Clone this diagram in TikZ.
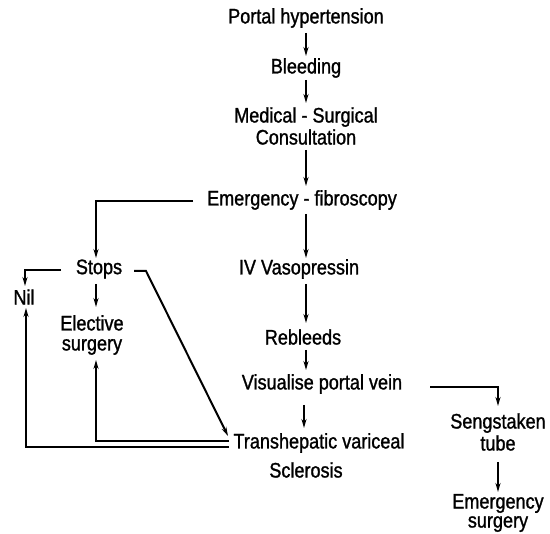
\documentclass[tikz,border=0pt]{standalone}
\usepackage{fontspec}
\setmainfont{Liberation Sans}[FakeStretch=0.86, FakeBold=1.2]
\usetikzlibrary{arrows.meta}
\begin{document}
\begin{tikzpicture}[x=1pt,y=-1pt,
  lbl/.style={inner sep=2pt, font=\fontsize{21}{22}\selectfont, align=center},
  conn/.style={line width=2pt},
  arr/.style={conn, -{Stealth[length=9pt,width=5pt]}}]
\useasboundingbox (0,0) rectangle (550,534);
\node[lbl] (ph) at (306,18) {Portal hypertension};
\node[lbl] (bl) at (306,68) {Bleeding};
\node[lbl] (msc) at (306,126) {Medical - Surgical\\Consultation};
\node[lbl] (ef) at (302,200) {Emergency - fibroscopy};
\node[lbl] (iv) at (299,269) {IV Vasopressin};
\node[lbl] (rb) at (303,337) {Rebleeds};
\node[lbl] (vpv) at (322,384) {Visualise portal vein};
\node[lbl] (thv) at (319,443) {Transhepatic variceal};
\node[lbl] (scl) at (306,470) {Sclerosis};
\node[lbl] (st) at (498,432) {Sengstaken\\tube};
\node[lbl, font=\fontsize{21}{19}\selectfont] (es) at (498,513) {Emergency\\surgery};
\node[lbl] (stops) at (99,269) {Stops};
\node[lbl] (nil) at (24,297) {Nil};
\node[lbl, font=\fontsize{21}{20}\selectfont] (el) at (92,335) {Elective\\surgery};
\coordinate (a1) at (306,33); \coordinate (b1) at (306,56);
\coordinate (a2) at (306,80); \coordinate (b2) at (306,103);
\coordinate (a3) at (306,150); \coordinate (b3) at (306,186);
\coordinate (a4) at (306,214); \coordinate (b4) at (306,258);
\coordinate (a5) at (306,284); \coordinate (b5) at (306,323);
\coordinate (a6) at (306,350); \coordinate (b6) at (306,370);
\coordinate (a7) at (304,405); \coordinate (b7) at (304,428);
\draw[arr] (a1) -- (b1);
\draw[arr] (a2) -- (b2);
\draw[arr] (a3) -- (b3);
\draw[arr] (a4) -- (b4);
\draw[arr] (a5) -- (b5);
\draw[arr] (a6) -- (b6);
\draw[arr] (a7) -- (b7);
\coordinate (efw) at (193,201);
\coordinate (stn) at (96,258);
\draw[arr] (efw) -| (stn);
\coordinate (stw) at (61,270);
\coordinate (niln) at (25,286);
\draw[arr] (stw) -| (niln);
\coordinate (sts) at (96,284);
\coordinate (eln) at (96,307);
\draw[arr] (sts) -- (eln);
\coordinate (ste) at (134,271);
\coordinate (stb) at (146,271);
\coordinate (tht) at (228,436);
\draw[arr] (ste) -- (stb) -- (tht);
\coordinate (thw1) at (229,441);
\coordinate (els) at (96,360);
\draw[arr] (thw1) -| (els);
\coordinate (thw2) at (229,447);
\coordinate (nils) at (26,308);
\draw[arr] (thw2) -| (nils);
\coordinate (vpe) at (430,387);
\coordinate (stnn) at (498,406);
\draw[arr] (vpe) -| (stnn);
\coordinate (a8) at (498,462); \coordinate (b8) at (498,492);
\draw[arr] (a8) -- (b8);
\end{tikzpicture}
\end{document}
